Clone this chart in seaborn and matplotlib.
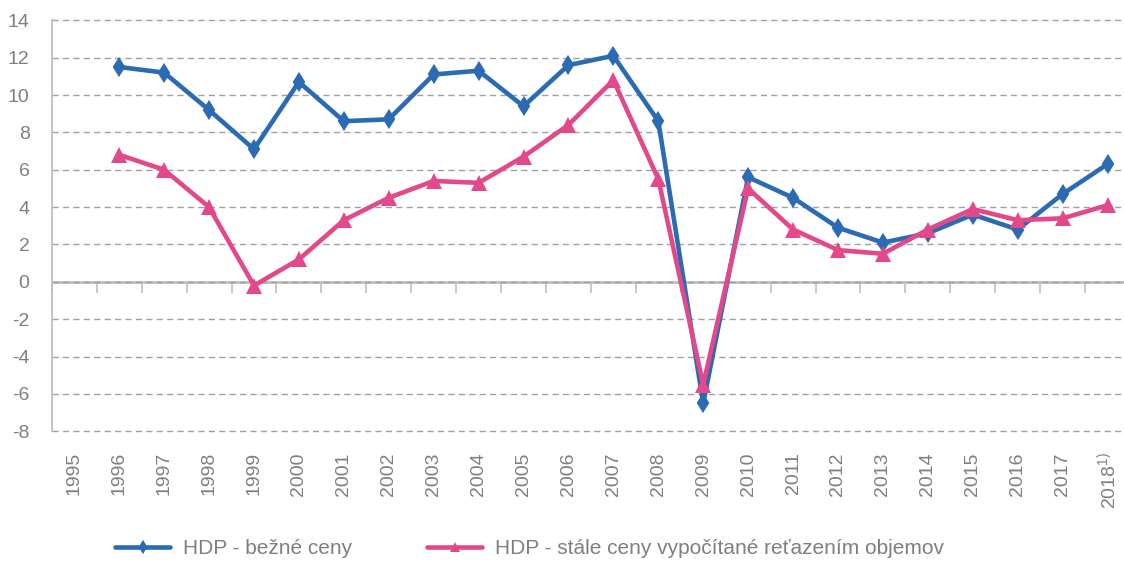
import pandas as pd
import numpy as np
import matplotlib
matplotlib.use("Agg")
import matplotlib.pyplot as plt
import seaborn as sns

years = list(range(1995, 2019))
year_labels = [str(y) for y in years[:-1]] + ["2018$^{1)}$"]

bezne_ceny = [np.nan, 11.5, 11.2, 9.2, 7.1, 10.7, 8.6, 8.7, 11.1, 11.3, 9.4, 11.6, 12.1, 8.6,
              -6.5, 5.6, 4.5, 2.9, 2.1, 2.6, 3.6, 2.8, 4.7, 6.3]
stale_ceny = [np.nan, 6.8, 6.0, 4.0, -0.2, 1.2, 3.3, 4.5, 5.4, 5.3, 6.7, 8.4, 10.8, 5.5,
              -5.5, 5.0, 2.8, 1.7, 1.5, 2.8, 3.9, 3.3, 3.4, 4.1]

series_names = ["HDP - bežné ceny", "HDP - stále ceny vypočítané reťazením objemov"]
colors = ["#2B6BB3", "#E2488A"]
markers = ["d", "^"]

df = pd.DataFrame({
    "rok": years * 2,
    "hodnota": bezne_ceny + stale_ceny,
    "rad": [series_names[0]] * len(years) + [series_names[1]] * len(years),
})

sns.set_style("white")
plt.rcParams["font.family"] = ["Liberation Sans", "DejaVu Sans"]
plt.rcParams["mathtext.fontset"] = "custom"
plt.rcParams["mathtext.rm"] = "Liberation Sans"
plt.rcParams["axes.unicode_minus"] = False

gray_txt = "#7f7f7f"
gray_axis = "#bfbfbf"

fig = plt.figure(figsize=(11.24, 5.63), dpi=100)
ax = fig.add_axes([51.8 / 1124, 1 - 431.3 / 563, (1130 - 51.8) / 1124, (431.3 - 20.3) / 563])

for name, col, mk in zip(series_names, colors, markers):
    sub = df[df["rad"] == name].dropna()
    sns.lineplot(data=sub, x="rok", y="hodnota", color=col, marker=mk, lw=3.3,
                 markersize=(8.5 if mk == "d" else 11.5), markeredgewidth=(1.6 if mk == "d" else 0),
                 markeredgecolor=col, label=name, ax=ax, zorder=3)

ax.set_xlim(1994.5, 2018.5)
ax.set_ylim(-8, 14)
ax.set_yticks(range(-8, 15, 2))
ax.set_xticks(years, labels=year_labels, rotation=90)
ax.set_xlabel("")
ax.set_ylabel("")

for s in ["top", "right", "bottom"]:
    ax.spines[s].set_visible(False)
ax.spines["left"].set_color(gray_axis)
ax.spines["left"].set_linewidth(1.3)

ax.tick_params(axis="x", length=0, pad=15, labelsize=14, labelcolor=gray_txt)
ax.tick_params(axis="y", length=7, width=1.2, color=gray_axis, pad=9, labelsize=14, labelcolor=gray_txt)
ax.yaxis.grid(True, linestyle=(0, (4.5, 3)), color="#a0a0a0", linewidth=1.0)
ax.set_axisbelow(True)
for gl in ax.get_ygridlines():
    gl.set_clip_on(False)

# horizontal axis line at zero with category boundary ticks
sec = ax.secondary_xaxis(8 / 22)
sec.set_xticks([y - 0.5 for y in years] + [2018.5], labels=[])
sec.tick_params(length=8, width=1.2, color=gray_axis, direction="out")
sec.spines["bottom"].set_color(gray_axis)
sec.spines["bottom"].set_linewidth(2.0)

handles, labels = ax.get_legend_handles_labels()
ax.legend(handles, labels, loc="center left", bbox_to_anchor=(115 / 1124, 1 - 549 / 563),
          bbox_transform=fig.transFigure, ncol=2, frameon=False, fontsize=15,
          handlelength=2.65, handletextpad=0.62, columnspacing=3.6, markerscale=0.65,
          borderpad=0, borderaxespad=0, labelcolor=gray_txt)

fig.savefig("out.png", dpi=100)
